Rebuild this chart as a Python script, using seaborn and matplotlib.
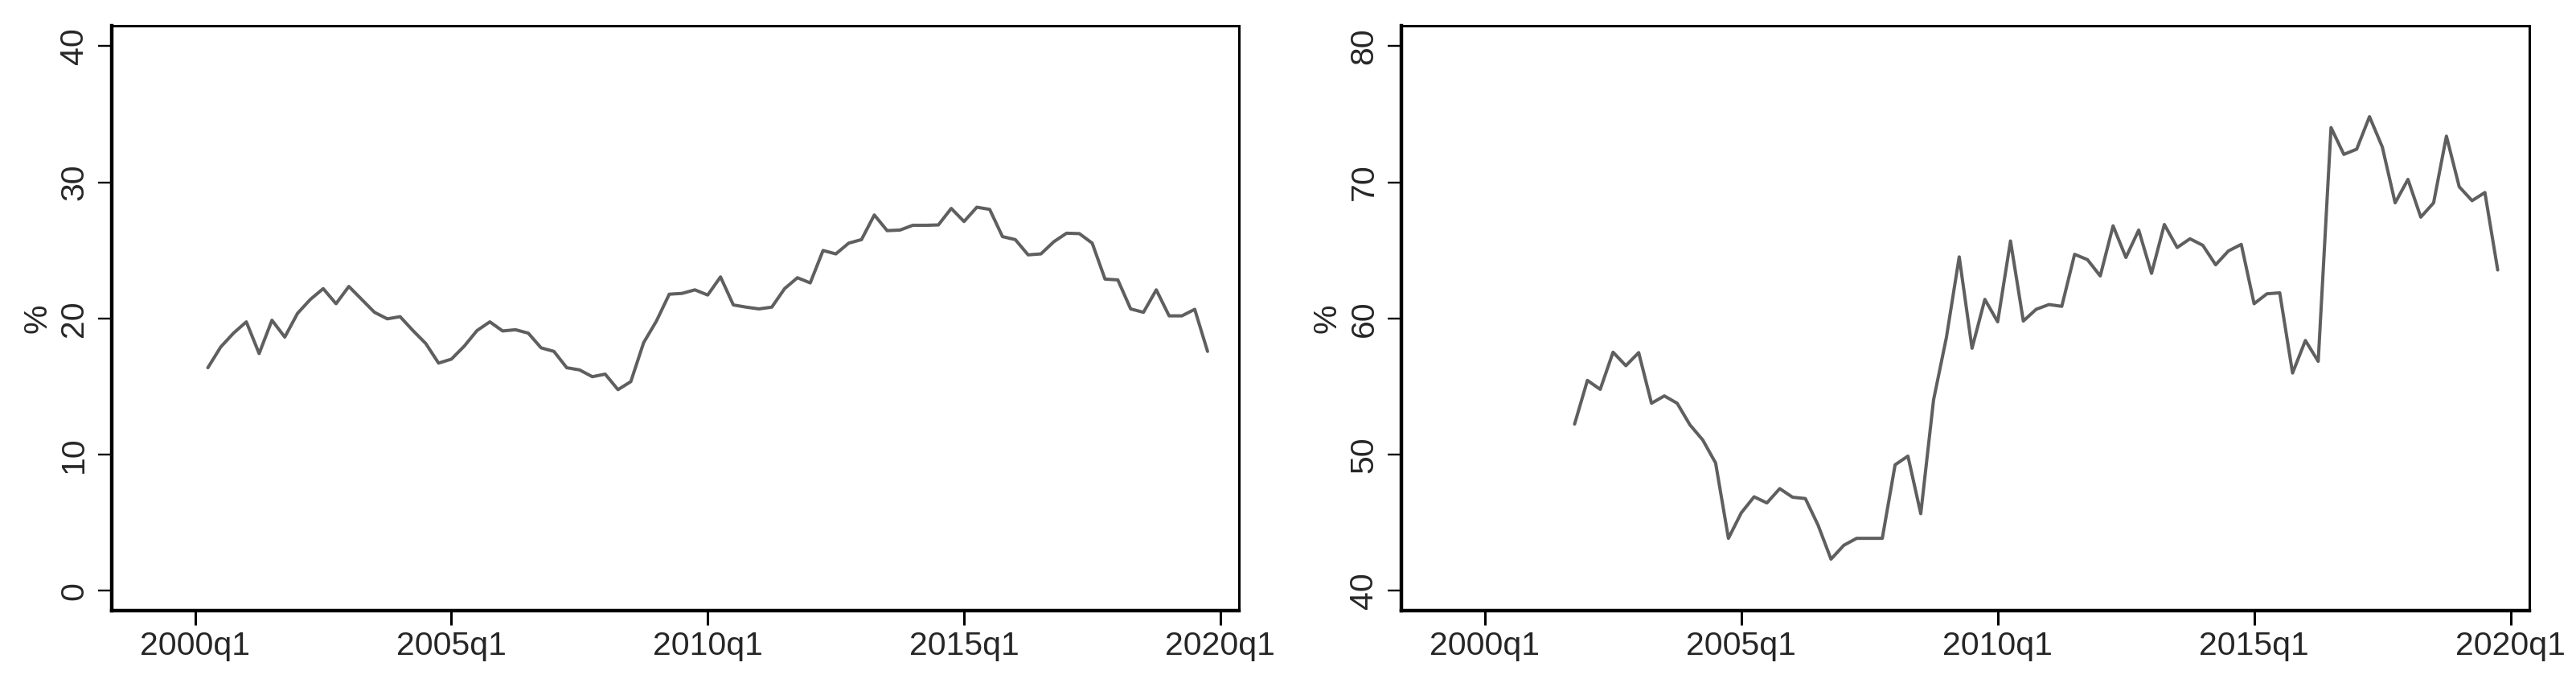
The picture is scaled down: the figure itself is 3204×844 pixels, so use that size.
import numpy as np
import pandas as pd
import matplotlib
matplotlib.use("Agg")
import matplotlib.pyplot as plt
import seaborn as sns


# DATA (quarterly, %)

# left panel: 2000q2 .. 2019q4
left_start = "2000Q2"
left_values = [
    16.38, 17.90, 18.92,
    19.75, 17.42, 19.87, 18.63,
    20.38, 21.40, 22.19, 21.08,
    22.35, 21.40, 20.45, 19.97,
    20.13, 19.11, 18.16, 16.72,
    17.01, 17.96, 19.11, 19.75,
    19.08, 19.17, 18.92, 17.84,
    17.58, 16.38, 16.22, 15.72,
    15.91, 14.77, 15.36, 18.22,
    19.81, 21.78, 21.84, 22.10,
    21.72, 23.05, 20.99, 20.83,
    20.70, 20.83, 22.19, 22.99,
    22.61, 24.99, 24.74, 25.53,
    25.79, 27.60, 26.45, 26.49,
    26.84, 26.84, 26.87, 28.08,
    27.12, 28.17, 28.01, 26.01,
    25.79, 24.67, 24.74, 25.63,
    26.26, 26.23, 25.53, 22.89,
    22.83, 20.70, 20.45, 22.10,
    20.19, 20.19, 20.67, 17.58,
]

# right panel: 2001q4 .. 2019q4
right_start = "2001Q4"
right_values = [
    52.24,
    55.45, 54.79, 57.52, 56.53,
    57.49, 53.77, 54.31, 53.77,
    52.18, 51.07, 49.38, 43.85,
    45.72, 46.90, 46.45, 47.50,
    46.87, 46.77, 44.80, 42.32,
    43.34, 43.85, 43.85, 43.85,
    49.25, 49.89, 45.66, 54.02,
    58.60, 64.52, 57.81, 61.40,
    59.75, 65.69, 59.81, 60.67,
    61.02, 60.89, 64.71, 64.32,
    63.12, 66.80, 64.48, 66.49,
    63.31, 66.90, 65.21, 65.85,
    65.37, 63.94, 64.96, 65.44,
    61.08, 61.81, 61.88, 55.99,
    58.38, 56.85, 74.02, 72.05,
    72.43, 74.82, 72.59, 68.49,
    70.21, 67.44, 68.49, 73.39,
    69.67, 68.65, 69.25, 63.56,
]

x_tick_labels = ["2000q1", "2005q1", "2010q1", "2015q1", "2020q1"]
left_yticks = [0, 10, 20, 30, 40]
right_yticks = [40, 50, 60, 70, 80]


def to_frame(start, values):
    q = pd.period_range(start=start, periods=len(values), freq="Q")
    base = pd.Period("2000Q1", freq="Q")
    return pd.DataFrame({"t": [(p - base).n for p in q], "pct": values})


df_left = to_frame(left_start, left_values)
df_right = to_frame(right_start, right_values)
tick_pos = [(pd.Period(lab.replace("q", "Q"), freq="Q") - pd.Period("2000Q1", freq="Q")).n
            for lab in x_tick_labels]


# STYLE

sns.set_style("white")
plt.rcParams["font.family"] = ["Liberation Sans", "DejaVu Sans"]
FS = 29.5
LINE_COLOR = "#5f5f5f"

fig = plt.figure(figsize=(32.04, 8.44), dpi=100)
ax_l = fig.add_axes([0.04323, 0.10071, 0.43773, 0.86102])
ax_r = fig.add_axes([0.54391, 0.10071, 0.43789, 0.86102])


def style_axis(ax, df, yticks, ylim):
    sns.lineplot(data=df, x="t", y="pct", ax=ax, color=LINE_COLOR, linewidth=2.9)
    ax.set_xlim(-6.53, 81.45)
    ax.set_ylim(*ylim)
    ax.set_xticks(tick_pos)
    ax.set_xticklabels(x_tick_labels, fontsize=FS)
    ax.set_yticks(yticks)
    ax.set_yticklabels([str(v) for v in yticks], fontsize=FS, rotation=90, va="center")
    ax.tick_params(axis="x", direction="out", length=12.7, width=2.2, pad=5,
                   bottom=True, color="black")
    ax.tick_params(axis="y", direction="out", length=12.6, width=1.7, pad=7,
                   left=True, color="black")
    for side in ["left", "bottom"]:
        ax.spines[side].set_linewidth(3.2)
        ax.spines[side].set_color("black")
    for side in ["top", "right"]:
        ax.spines[side].set_linewidth(2.2)
        ax.spines[side].set_color("black")
    ax.set_xlabel("")
    ax.set_ylabel("%", fontsize=FS)
    ax.yaxis.set_label_coords(-0.0524, 0.5)
    ax.grid(False)


style_axis(ax_l, df_left, left_yticks, (-1.46, 41.48))
style_axis(ax_r, df_right, right_yticks, (38.54, 81.48))

fig.savefig("out.png", dpi=100, facecolor="white")
